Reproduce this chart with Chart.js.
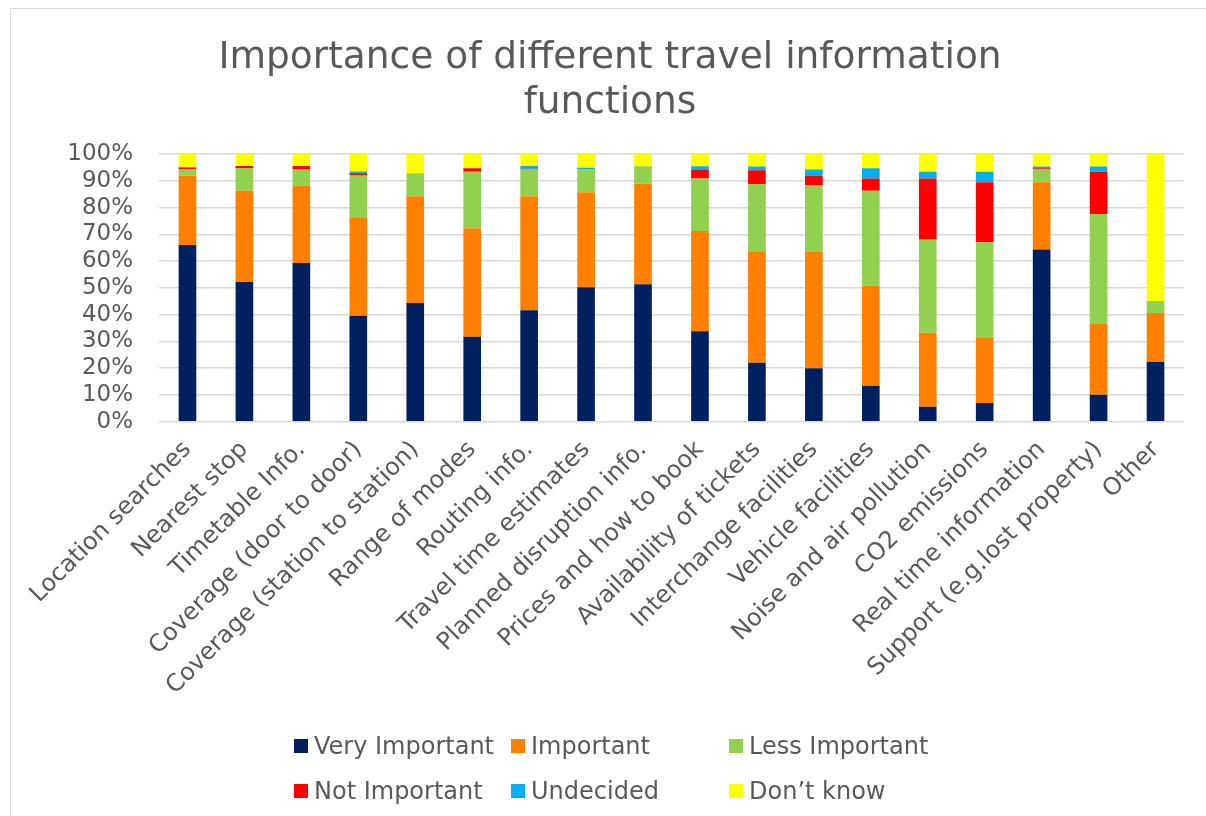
<!DOCTYPE html>
<html>
<head>
<meta charset="utf-8">
<script src="https://cdn.jsdelivr.net/npm/chart.js@4/dist/chart.umd.min.js"></script>
<style>
  html, body { margin: 0; padding: 0; background: #fff; }
  #wrap { position: relative; width: 1206px; height: 816px; overflow: hidden; }
  #frame { position: absolute; left: 10px; top: 8px; width: 1210px; height: 820px; border: 1px solid #d9d9d9; box-sizing: border-box; }
  #c { position: absolute; left: 0; top: 0; }
  .lg { position: absolute; font-family: "DejaVu Sans", Verdana, sans-serif; font-size: 24px; color: #595959; white-space: nowrap; line-height: 24px; }
  .lg i { position: absolute; left: 0; top: 5px; width: 14px; height: 14px; }
  .lg span { position: absolute; left: 20px; top: 0; }
</style>
</head>
<body>
<div id="wrap">
  <div id="frame"></div>
  <canvas id="c" width="1206" height="816"></canvas>
  <div id="legend"></div>
</div>
<script>
const categories = [
  'Location searches', 'Nearest stop', 'Timetable Info.', 'Coverage (door to door)',
  'Coverage (station to station)', 'Range of modes', 'Routing info.', 'Travel time estimates',
  'Planned disruption info.', 'Prices and how to book', 'Availability of tickets',
  'Interchange facilities', 'Vehicle facilities', 'Noise and air pollution', 'CO2 emissions',
  'Real time information', 'Support (e.g.lost property)', 'Other'
];
const veryImportant = [66.0, 52.2, 59.3, 39.6, 44.3, 31.7, 41.6, 50.2, 51.3, 33.8, 22.0, 20.0, 13.4, 5.6, 7.0, 64.3, 10.1, 22.4];
const important     = [25.9, 34.1, 28.9, 36.8, 39.9, 40.6, 42.6, 35.5, 37.6, 37.4, 41.7, 43.4, 37.4, 27.6, 24.3, 25.1, 26.4, 18.2];
const lessImportant = [2.5, 8.5, 6.0, 15.6, 8.6, 21.1, 10.0, 8.5, 6.5, 19.6, 25.1, 24.8, 35.5, 34.9, 35.7, 4.8, 41.1, 4.5];
const notImportant  = [0.6, 0.7, 1.3, 0.8, 0.0, 1.3, 0.3, 0.0, 0.0, 3.4, 5.1, 3.8, 4.5, 22.7, 22.4, 0.5, 15.8, 0.0];
const undecided     = [0.1, 0.0, 0.0, 0.7, 0.0, 0.0, 1.0, 0.7, 0.0, 1.2, 1.4, 2.2, 3.9, 2.6, 4.0, 0.6, 1.9, 0.0];
const dontKnow      = [4.9, 4.5, 4.5, 6.5, 7.2, 5.3, 4.5, 5.1, 4.6, 4.6, 4.7, 5.8, 5.3, 6.6, 6.6, 4.7, 4.7, 54.9];
const seriesNames = ['Very Important', 'Important', 'Less Important', 'Not Important', 'Undecided', 'Don\u2019t know'];
const seriesColors = ['#002060', '#FF7F00', '#92D050', '#FF0000', '#00B0F0', '#FFFF00'];
const yTicks = [0, 10, 20, 30, 40, 50, 60, 70, 80, 90, 100];
const titleLines = ['Importance of different travel information', 'functions'];

const seriesData = [veryImportant, important, lessImportant, notImportant, undecided, dontKnow];
const FONT = '"DejaVu Sans", Verdana, sans-serif';
const TXT = '#595959';

const chart = new Chart(document.getElementById('c'), {
  type: 'bar',
  data: {
    labels: categories,
    datasets: seriesData.map((d, i) => ({
      label: seriesNames[i],
      data: d,
      backgroundColor: seriesColors[i],
      borderWidth: 0,
      barPercentage: 0.62,
      categoryPercentage: 0.5
    }))
  },
  options: {
    responsive: false,
    animation: false,
    layout: { padding: { left: 14, right: 0, top: 8, bottom: 101.4 } },
    plugins: {
      legend: { display: false },
      tooltip: { enabled: false },
      title: {
        display: true,
        text: titleLines,
        color: TXT,
        font: { family: FONT, size: 37.5, weight: 'normal', lineHeight: 1.2 },
        padding: { top: 28, bottom: 28 }
      }
    },
    scales: {
      x: {
        stacked: true,
        grid: { display: false, drawTicks: false },
        border: { display: false },
        afterFit: (s) => { s.paddingLeft = 0; s.paddingRight = 0; },
        ticks: {
          color: TXT,
          font: { family: FONT, size: 24 },
          maxRotation: 45, minRotation: 45,
          padding: 14,
          autoSkip: false
        }
      },
      y: {
        stacked: true,
        min: 0, max: 100,
        afterBuildTicks: (axis) => { axis.ticks = yTicks.map(v => ({ value: v })); },
        afterFit: (s) => { s.width = 145; },
        grid: { color: '#d9d9d9', lineWidth: 1.5, drawTicks: false },
        border: { display: false },
        ticks: {
          color: TXT,
          font: { family: FONT, size: 23 },
          padding: 26,
          autoSkip: false,
          callback: (v) => v + '%'
        }
      },
      yRight: {
        position: 'right',
        display: true,
        grid: { display: false, drawTicks: false },
        border: { display: false },
        ticks: { display: false },
        afterFit: (s) => { s.width = 22; }
      }
    }
  }
});

// HTML legend (grid layout like the original)
const legendPos = [[294, 734], [511, 734], [729, 734], [294, 779], [511, 779], [729, 779]];
const lg = document.getElementById('legend');
seriesNames.forEach((n, i) => {
  const d = document.createElement('div');
  d.className = 'lg';
  d.style.left = legendPos[i][0] + 'px';
  d.style.top = legendPos[i][1] + 'px';
  const sq = document.createElement('i');
  sq.style.background = seriesColors[i];
  const sp = document.createElement('span');
  sp.textContent = n;
  d.appendChild(sq); d.appendChild(sp);
  lg.appendChild(d);
});
</script>
</body>
</html>
